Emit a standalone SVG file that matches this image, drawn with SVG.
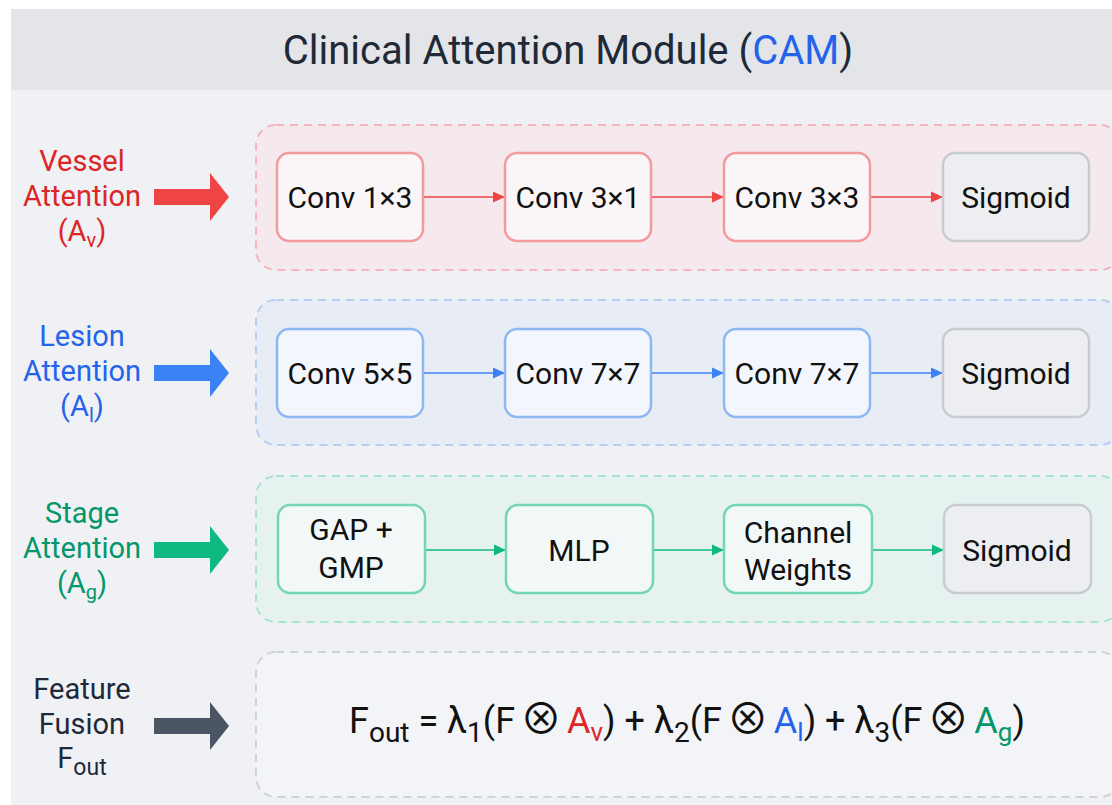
<svg xmlns="http://www.w3.org/2000/svg" width="1112" height="805" viewBox="0 0 1112 805">
<defs>
<style>
text{font-family:Roboto,"Liberation Sans",sans-serif;}
.node{font-size:30px;fill:#111111;text-anchor:middle;}
.lab{font-size:29px;text-anchor:middle;}
.cont{stroke-width:2;stroke-dasharray:8 6;}
.nd{stroke-width:2.5;}
.vc{fill:#f5e9ee;stroke:#f4b6bb;}
.lc{fill:#e8edf5;stroke:#b7cef2;}
.sc{fill:#e6f2f0;stroke:#a9e2cf;}
.fc{fill:#f3f4f7;stroke:#cfd2d8;}
.vn{fill:#faf6f8;stroke:#f29a9d;}
.ln{fill:#f3f6fc;stroke:#8db8f4;}
.sn{fill:#f2f8f7;stroke:#73d6b3;}
.gn{fill:#eceef2;stroke:#c8cbd0;}
.cv{stroke:#ef4444;stroke-width:1.6;fill:none;}
.cl{stroke:#3b82f6;stroke-width:1.6;fill:none;}
.cs{stroke:#10b981;stroke-width:1.6;fill:none;}
.ot{font-family:"Noto Sans CJK JP","DejaVu Sans",sans-serif;font-size:42px;}
.sp{font-size:20px;}
</style>
<marker id="ar" viewBox="0 0 10 10" refX="10" refY="5" markerWidth="12" markerHeight="12" markerUnits="userSpaceOnUse" orient="auto"><path d="M0,0.5 L10,5 L0,9.5 z" fill="#ef4444"/></marker>
<marker id="ab" viewBox="0 0 10 10" refX="10" refY="5" markerWidth="12" markerHeight="12" markerUnits="userSpaceOnUse" orient="auto"><path d="M0,0.5 L10,5 L0,9.5 z" fill="#3b82f6"/></marker>
<marker id="ag" viewBox="0 0 10 10" refX="10" refY="5" markerWidth="12" markerHeight="12" markerUnits="userSpaceOnUse" orient="auto"><path d="M0,0.5 L10,5 L0,9.5 z" fill="#10b981"/></marker>
</defs>
<rect x="0" y="0" width="1112" height="805" fill="#ffffff"/>
<rect x="11" y="9" width="1101" height="796" fill="#eff1f5"/>
<rect x="11" y="9" width="1101" height="81" fill="#e3e5e9"/>
<g id="title"><text x="568" y="64" font-size="40" text-anchor="middle" fill="#1f2937">Clinical Attention Module (<tspan fill="#2563eb">CAM</tspan>)</text></g>

<g id="containers">
<rect class="cont vc" x="256" y="125" width="864" height="145" rx="20"/>
<rect class="cont lc" x="256" y="300" width="864" height="145" rx="20"/>
<rect class="cont sc" x="256" y="476" width="864" height="146" rx="20"/>
<rect class="cont fc" x="256" y="652" width="864" height="145" rx="20"/>
</g>

<g id="labels">
<g id="vessel-label" fill="#dc2626">
<text class="lab" x="82" y="171">Vessel</text>
<text class="lab" x="82" y="206">Attention</text>
<text class="lab" x="82" y="241">(A<tspan font-size="20" dy="6">v</tspan><tspan dy="-6">)</tspan></text>
<path d="M154,189 H210 V173 L229,197 L210,221 V205 H154 Z" fill="#ef4444"/>
</g>
<g id="lesion-label" fill="#2563eb">
<text class="lab" x="82" y="346">Lesion</text>
<text class="lab" x="82" y="381">Attention</text>
<text class="lab" x="82" y="416">(A<tspan font-size="20" dy="6">l</tspan><tspan dy="-6">)</tspan></text>
<path d="M154,365 H210 V349 L229,373 L210,397 V381 H154 Z" fill="#3b82f6"/>
</g>
<g id="stage-label" fill="#059669">
<text class="lab" x="82" y="523">Stage</text>
<text class="lab" x="82" y="558">Attention</text>
<text class="lab" x="82" y="593">(A<tspan font-size="20" dy="6">g</tspan><tspan dy="-6">)</tspan></text>
<path d="M154,542 H210 V526 L229,550 L210,574 V558 H154 Z" fill="#10b981"/>
</g>
<g id="fusion-label" fill="#1f2937">
<text class="lab" x="82" y="699">Feature</text>
<text class="lab" x="82" y="734">Fusion</text>
<text class="lab" x="82" y="768">F<tspan font-size="23" dy="7">out</tspan></text>
<path d="M154,718 H210 V702 L229,726 L210,750 V734 H154 Z" fill="#4b5563"/>
</g>
</g>

<g id="connectors">
<line class="cv" x1="423" y1="197" x2="505" y2="197" marker-end="url(#ar)"/>
<line class="cv" x1="651" y1="197" x2="724" y2="197" marker-end="url(#ar)"/>
<line class="cv" x1="870" y1="197" x2="943" y2="197" marker-end="url(#ar)"/>
<line class="cl" x1="423" y1="373" x2="505" y2="373" marker-end="url(#ab)"/>
<line class="cl" x1="651" y1="373" x2="724" y2="373" marker-end="url(#ab)"/>
<line class="cl" x1="870" y1="373" x2="943" y2="373" marker-end="url(#ab)"/>
<line class="cs" x1="425" y1="550" x2="506" y2="550" marker-end="url(#ag)"/>
<line class="cs" x1="653" y1="550" x2="724" y2="550" marker-end="url(#ag)"/>
<line class="cs" x1="872" y1="550" x2="944" y2="550" marker-end="url(#ag)"/>
</g>

<g id="v1"><rect class="nd vn" x="277" y="153" width="146" height="88" rx="12"/><text class="node" x="350" y="208">Conv 1×3</text></g>
<g id="v2"><rect class="nd vn" x="505" y="153" width="146" height="88" rx="12"/><text class="node" x="578" y="208">Conv 3×1</text></g>
<g id="v3"><rect class="nd vn" x="724" y="153" width="146" height="88" rx="12"/><text class="node" x="797" y="208">Conv 3×3</text></g>
<g id="v4"><rect class="nd gn" x="943" y="153" width="146" height="88" rx="12"/><text class="node" x="1016" y="208">Sigmoid</text></g>

<g id="l1"><rect class="nd ln" x="277" y="329" width="146" height="88" rx="12"/><text class="node" x="350" y="384">Conv 5×5</text></g>
<g id="l2"><rect class="nd ln" x="505" y="329" width="146" height="88" rx="12"/><text class="node" x="578" y="384">Conv 7×7</text></g>
<g id="l3"><rect class="nd ln" x="724" y="329" width="146" height="88" rx="12"/><text class="node" x="797" y="384">Conv 7×7</text></g>
<g id="l4"><rect class="nd gn" x="943" y="329" width="146" height="88" rx="12"/><text class="node" x="1016" y="384">Sigmoid</text></g>

<g id="s1"><rect class="nd sn" x="278" y="505" width="147" height="88" rx="12"/><text class="node" x="351" y="540">GAP +</text><text class="node" x="351" y="578">GMP</text></g>
<g id="s2"><rect class="nd sn" x="506" y="505" width="147" height="88" rx="12"/><text class="node" x="579" y="561">MLP</text></g>
<g id="s3"><rect class="nd sn" x="724" y="505" width="148" height="88" rx="12"/><text class="node" x="798" y="543">Channel</text><text class="node" x="798" y="580">Weights</text></g>
<g id="s4"><rect class="nd gn" x="944" y="505" width="147" height="88" rx="12"/><text class="node" x="1017" y="561">Sigmoid</text></g>

<g id="fusion">
<text x="687" y="733" font-size="36" text-anchor="middle" fill="#111111">F<tspan font-size="28" dy="9">out</tspan><tspan dy="-9"> = λ</tspan><tspan font-size="28" dy="9">1</tspan><tspan dy="-9">(F</tspan><tspan class="sp"> </tspan><tspan class="ot" dy="1">⊗</tspan><tspan class="sp" dy="-1"> </tspan><tspan fill="#dc2626">A</tspan><tspan fill="#dc2626" font-size="26" dy="8">v</tspan><tspan dy="-8">) + λ</tspan><tspan font-size="28" dy="9">2</tspan><tspan dy="-9">(F</tspan><tspan class="sp"> </tspan><tspan class="ot" dy="1">⊗</tspan><tspan class="sp" dy="-1"> </tspan><tspan fill="#2563eb">A</tspan><tspan fill="#2563eb" font-size="26" dy="8">l</tspan><tspan dy="-8">) + λ</tspan><tspan font-size="28" dy="9">3</tspan><tspan dy="-9">(F</tspan><tspan class="sp"> </tspan><tspan class="ot" dy="1">⊗</tspan><tspan class="sp" dy="-1"> </tspan><tspan fill="#059669">A</tspan><tspan fill="#059669" font-size="26" dy="8">g</tspan><tspan dy="-8">)</tspan></text>
</g>
</svg>
